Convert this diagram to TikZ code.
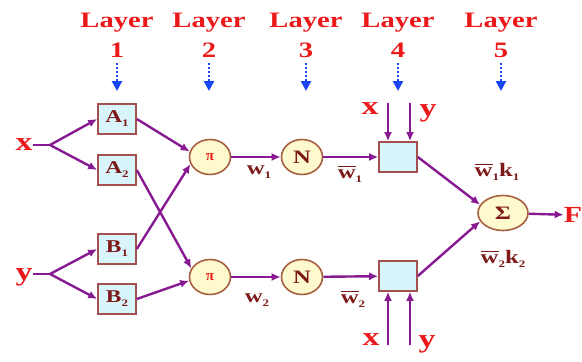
\documentclass[tikz,border=0pt]{standalone}
\usepackage{fontspec}
\usepackage{graphicx}
\setmainfont{Liberation Serif}
\usetikzlibrary{arrows.meta,shapes.geometric}
\definecolor{pur}{RGB}{135,25,145}
\definecolor{redt}{RGB}{235,25,25}
\definecolor{blu}{RGB}{25,70,245}
\definecolor{mar}{RGB}{125,25,25}
\definecolor{boxbd}{RGB}{165,80,80}
\definecolor{boxfill}{RGB}{215,245,250}
\definecolor{cbd}{RGB}{165,95,65}
\definecolor{cfill}{RGB}{255,250,205}
\newcommand\wide[1]{\scalebox{1.3}[1]{#1}}
\newcommand\subs[1]{\raisebox{-0.22em}{\fontsize{10}{10}\selectfont #1}}
\newcommand\wbar{{\setbox0=\hbox{w}\rlap{\rule[\dimexpr\ht0+2.5pt\relax]{\wd0}{1.4pt}}\box0}}
\begin{document}
\begin{tikzpicture}[x=1pt,y=-1pt,
  lay/.style={text=redt,font=\bfseries\fontsize{22}{24}\selectfont,anchor=base,inner sep=0pt},
  inlab/.style={text=redt,font=\bfseries\fontsize{26}{28}\selectfont,inner sep=0pt},
  mf/.style={rectangle,draw=boxbd,fill=boxfill,line width=1.6pt,minimum width=38pt,minimum height=30pt,inner sep=0pt,text=mar,font=\bfseries\fontsize{18}{20}\selectfont},
  sq/.style={rectangle,draw=boxbd,fill=boxfill,line width=1.6pt,minimum width=38pt,minimum height=30pt,inner sep=0pt},
  circ/.style={ellipse,draw=cbd,fill=cfill,line width=1.6pt,minimum width=41pt,minimum height=35pt,inner sep=0pt,text=mar,font=\bfseries\fontsize{19}{21}\selectfont},
  wlab/.style={text=mar,font=\bfseries\fontsize{19}{21}\selectfont,inner sep=0pt},
  pa/.style={draw=pur,line width=2.4pt,-{Latex[length=9pt,width=8pt]}},
  pl/.style={draw=pur,line width=2.4pt},
  bl/.style={draw=blu,line width=2.6pt,dash pattern=on 2pt off 2pt,-{Triangle[length=10pt,width=10pt]}}
]
\useasboundingbox (0,0) rectangle (582,362);
% layer headings
\foreach \i/\xx in {1/117,2/209,3/306,4/398,5/501}{
  \node[lay] (L\i) at (\xx,27) {\wide{Layer}};
  \node[lay] (n\i) at (\xx,57) {\wide{\i}};
  \coordinate (bs\i) at (\xx,63);
  \coordinate (be\i) at (\xx,91);
  \draw[bl] (bs\i) -- (be\i);
}
% inputs
\node[inlab] (xin) at (24,145) {\wide{x}};
\node[inlab] (yin) at (24,277) {\wide{y}};
\coordinate (xb) at (50,145);
\coordinate (yb) at (50,274);
% layer 1
\node[mf] (A1) at (117,119) {\wide{A\subs{1}}};
\node[mf] (A2) at (117,170) {\wide{A\subs{2}}};
\node[mf] (B1) at (117,249) {\wide{B\subs{1}}};
\node[mf] (B2) at (117,299) {\wide{B\subs{2}}};
% layer 2
\node[circ,text=redt,font=\bfseries\fontsize{15}{17}\selectfont] (P1) at (210,157) {π};
\node[circ,text=redt,font=\bfseries\fontsize{15}{17}\selectfont] (P2) at (210,277) {π};
% layer 3
\node[circ] (N1) at (302,157) {\wide{N}};
\node[circ] (N2) at (302,277) {\wide{N}};
% layer 4
\node[sq] (S1) at (398,157) {};
\node[sq] (S2) at (398,276) {};
% layer 5
\node[circ,minimum width=50pt] (Sg) at (503,213) {\wide{Σ}};
\node[inlab,font=\bfseries\fontsize{23}{25}\selectfont] (F) at (573,215) {\wide{F}};
% labels
\node[wlab] (w1) at (259,172) {\wide{w\subs{1}}};
\node[wlab] (w2) at (257,300) {\wide{w\subs{2}}};
\node[wlab] (wb1) at (350,174) {\wide{\wbar\subs{1}}};
\node[wlab] (wb2) at (353,299) {\wide{\wbar\subs{2}}};
\node[wlab] (wk1) at (497,172) {\wide{\wbar\subs{1}k\subs{1}}};
\node[wlab] (wk2) at (503,259) {\wide{\wbar\subs{2}k\subs{2}}};
% x y into layer 4
\node[inlab] (tx) at (370,109) {\wide{x}};
\node[inlab] (ty) at (428,113) {\wide{y}};
\node[inlab] (bx) at (371,340) {\wide{x}};
\node[inlab] (by) at (427,344) {\wide{y}};
\coordinate (tx0) at (388,103);
\coordinate (ty0) at (410,103);
\coordinate (bx0) at (388,345);
\coordinate (by0) at (410,345);
% connectors
\draw[pl] (xin.east) -- (xb);
\draw[pa] (xb) -- (A1.west);
\draw[pa] (xb) -- (A2.west);
\draw[pl] (yin.east |- yb) -- (yb);
\draw[pa] (yb) -- (B1.west);
\draw[pa] (yb) -- (B2.west);
\draw[pa] (A1.east) -- (P1.165);
\draw[pa] (B1.east) -- (P1.200);
\draw[pa] (A2.east) -- (P2.155);
\draw[pa] (B2.east) -- (P2.190);
\draw[pa] (P1) -- (N1);
\draw[pa] (P2) -- (N2);
\draw[pa] (N1) -- (S1);
\draw[pa] (N2) -- (S2);
\draw[pa] (tx0) -- (tx0 |- S1.north);
\draw[pa] (ty0) -- (ty0 |- S1.north);
\draw[pa] (bx0) -- (bx0 |- S2.south);
\draw[pa] (by0) -- (by0 |- S2.south);
\draw[pa] (S1.east) -- (Sg.160);
\draw[pa] (S2.east) -- (Sg.200);
\draw[pa] (Sg) -- (F);
\end{tikzpicture}
\end{document}
